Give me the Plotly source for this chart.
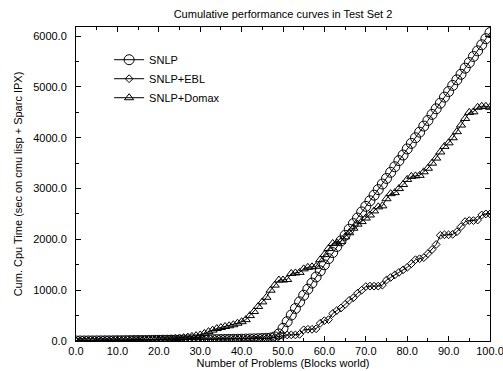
import plotly.graph_objects as go

problems = list(range(0, 101))

snlp = [0, 1, 1, 2, 2, 3, 3, 4, 4, 5, 6, 6, 7, 8, 9, 10, 10, 11, 12, 13,
        14, 15, 16, 17, 18, 19, 20, 21, 22, 23, 24, 25, 26, 27, 28, 29, 30, 31, 32, 34,
        36, 38, 40, 42, 45, 48, 52, 58, 80, 140, 250, 380, 510, 640, 770, 900, 1020, 1140, 1260, 1380,
        1500, 1620, 1740, 1860, 1970, 2080, 2200, 2310, 2420, 2540, 2650, 2760, 2870, 2980, 3090, 3200, 3320, 3430, 3550, 3660,
        3780, 3890, 4000, 4110, 4230, 4340, 4460, 4570, 4680, 4800, 4910, 5030, 5140, 5250, 5370, 5480, 5600, 5710, 5830, 5950,
        6070]

snlp_ebl = [0, 1, 1, 2, 2, 3, 3, 4, 4, 5, 5, 6, 6, 7, 8, 8, 9, 10, 11, 12,
            12, 13, 14, 15, 16, 17, 18, 19, 20, 21, 22, 23, 24, 25, 26, 27, 28, 29, 30, 32,
            34, 36, 38, 40, 43, 46, 50, 56, 70, 90, 110, 120, 120, 120, 130, 220, 230, 230, 240, 350,
            400, 420, 540, 600, 650, 720, 800, 850, 940, 1000, 1070, 1080, 1080, 1080, 1100, 1200, 1250, 1300, 1350, 1400,
            1450, 1520, 1600, 1620, 1640, 1720, 1800, 1900, 2080, 2090, 2090, 2100, 2150, 2250, 2350, 2370, 2370, 2380, 2480, 2500,
            2500]

snlp_domax = [0, 1, 2, 3, 4, 5, 6, 7, 8, 9, 10, 11, 12, 13, 14, 16, 18, 20, 22, 24,
              27, 30, 34, 40, 48, 57, 66, 78, 92, 106, 120, 150, 185, 215, 245, 265, 285, 300, 320, 350,
              380, 420, 500, 580, 680, 770, 860, 1000, 1100, 1200, 1200, 1210, 1330, 1340, 1350, 1420, 1450, 1460, 1470, 1600,
              1700, 1820, 1920, 1930, 1960, 2050, 2130, 2220, 2300, 2350, 2420, 2480, 2560, 2640, 2660, 2800, 2900, 2920, 3000, 3080,
              3180, 3240, 3250, 3260, 3330, 3400, 3500, 3600, 3720, 3830, 3900, 4000, 4120, 4250, 4380, 4500, 4510, 4600, 4620, 4620,
              4600]

FONT = "Liberation Sans, Arial, sans-serif"

fig = go.Figure()
fig.add_trace(go.Scatter(x=problems, y=snlp, name="SNLP", mode="lines+markers",
                         line=dict(color="black", width=1),
                         marker=dict(symbol="circle-open", size=10, color="black", line=dict(width=1))))
fig.add_trace(go.Scatter(x=problems, y=snlp_ebl, name="SNLP+EBL", mode="lines+markers",
                         line=dict(color="black", width=1),
                         marker=dict(symbol="diamond-open", size=6, color="black", line=dict(width=1))))
fig.add_trace(go.Scatter(x=problems, y=snlp_domax, name="SNLP+Domax", mode="lines+markers",
                         line=dict(color="black", width=1),
                         marker=dict(symbol="triangle-up-open", size=8, color="black", line=dict(width=1))))

axis_common = dict(
    showline=True, linecolor="black", linewidth=1, mirror="allticks",
    ticks="inside", ticklen=5, tickcolor="black", showgrid=False, zeroline=False,
    tickformat=".1f", tickfont=dict(family=FONT, size=11, color="black"),
    ticklabeloverflow="allow", automargin=False,
)

fig.update_xaxes(range=[0, 100], dtick=10, tick0=0,
                 minor=dict(ticks="inside", dtick=5, ticklen=3, tickcolor="black", showgrid=False),
                 title=dict(text="Number of Problems (Blocks world)", font=dict(family=FONT, size=11, color="black"), standoff=2),
                 **axis_common)
fig.update_yaxes(range=[0, 6180], dtick=1000, tick0=0, ticklabelstandoff=6,
                 minor=dict(ticks="inside", dtick=500, ticklen=3, tickcolor="black", showgrid=False),
                 title=dict(text="Cum. Cpu Time (sec on cmu lisp + Sparc IPX)", font=dict(family=FONT, size=11, color="black"), standoff=8),
                 **axis_common)

fig.update_layout(
    width=503, height=371,
    margin=dict(l=76, r=13, t=27, b=30),
    paper_bgcolor="white", plot_bgcolor="white",
    title=dict(text="Cumulative performance curves in Test Set 2", xref="paper", x=0.5, xanchor="center",
               yref="container", y=1 - 14 / 371, yanchor="middle", font=dict(family=FONT, size=11, color="black")),
    legend=dict(x=0.08, y=0.942, xanchor="left", yanchor="top", bgcolor="rgba(0,0,0,0)",
                font=dict(family=FONT, size=11, color="black"), tracegroupgap=0, itemwidth=30),
    showlegend=True,
)

fig.write_html("out.html", config={"displayModeBar": False},
               post_script="document.body.style.margin='0px';document.body.style.overflow='hidden';")
